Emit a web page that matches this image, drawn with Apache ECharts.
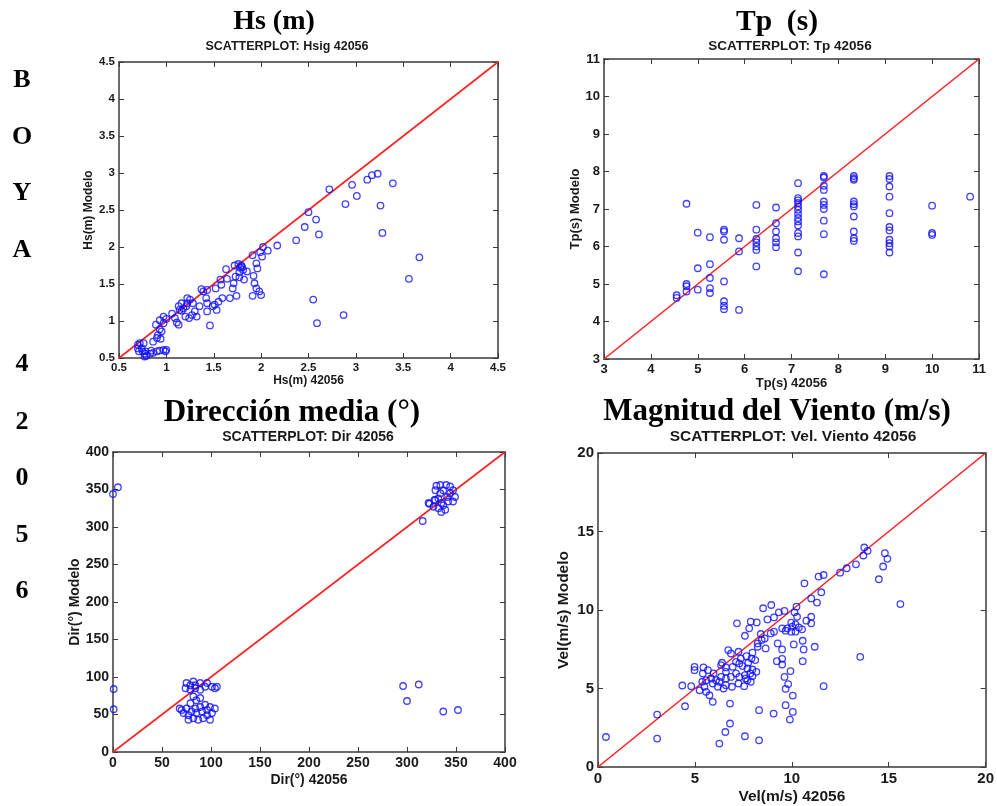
<!DOCTYPE html>
<html><head><meta charset="utf-8">
<script src="https://cdn.jsdelivr.net/npm/echarts@6/dist/echarts.min.js"></script>
<style>html,body{margin:0;padding:0;background:#fff}#c{width:997px;height:806px}</style>
</head><body><div id="c"></div>
<script>
// ---------- DATA ----------
const hsObs = [2.72,2.96,2.89,3.01,3.12,3.17,3.23,3.39,3.26,3.28,3.67,3.56,2.50,2.46,2.58,2.61,2.37,2.17,2.55,2.59,2.87,1.46,2.07,2.02,2.01,1.99,1.91,1.95,1.96,1.92,1.85,1.93,1.95,1.98,2.00,1.91,1.82,1.77,1.74,1.67,1.71,1.64,1.63,1.72,1.76,1.79,1.81,1.77,1.73,1.70,1.57,1.58,1.52,1.59,1.55,1.51,1.53,1.49,1.43,1.43,1.42,1.39,1.43,1.35,1.32,1.30,1.27,1.24,1.28,1.25,1.22,1.21,1.18,1.16,1.13,1.14,1.20,1.09,1.11,1.13,1.06,1.16,1.22,0.97,0.93,0.89,0.93,0.95,0.91,0.94,0.86,0.90,0.97,1.00,0.72,0.74,0.75,0.77,0.79,0.83,0.86,0.90,0.93,0.97,0.99,1.00,0.78,0.71,0.70,0.70,0.77,0.76,0.84,1.37,1.78,1.80];
const hsMod = [2.78,2.84,2.58,2.69,2.91,2.97,2.99,2.86,2.56,2.19,1.86,1.57,2.47,2.27,2.37,2.17,2.09,2.02,1.29,0.97,1.08,0.94,1.95,2.00,1.87,1.93,1.89,1.78,1.71,1.61,1.67,1.51,1.44,1.40,1.35,1.34,1.56,1.59,1.34,1.31,1.51,1.57,1.70,1.75,1.77,1.75,1.69,1.66,1.60,1.44,1.56,1.49,1.44,1.31,1.26,1.22,1.15,1.20,1.13,1.24,1.31,1.40,1.42,1.20,1.06,1.13,1.08,1.04,1.24,1.29,1.31,1.20,1.17,1.24,1.20,1.15,1.06,1.04,0.98,0.95,1.10,1.14,1.24,1.06,1.01,0.95,0.89,0.86,0.81,0.76,0.72,0.77,0.97,1.03,0.70,0.63,0.59,0.56,0.53,0.56,0.57,0.59,0.60,0.61,0.59,0.61,0.59,0.59,0.63,0.68,0.52,0.70,0.60,1.43,1.72,1.73];

const tpObs = [4.55,4.55, 4.76,4.76,4.76,4.76, 5.0,5.0,5.0, 5.26,5.26,5.26,5.26,5.26, 5.56,5.56,5.56,5.56,5.56,5.56,5.56, 5.88,5.88,5.88, 6.25,6.25,6.25,6.25,6.25,6.25,6.25, 6.67,6.67,6.67,6.67,6.67,6.67, 7.14,7.14,7.14,7.14,7.14,7.14,7.14,7.14,7.14,7.14,7.14,7.14,7.14,7.14, 7.69,7.69,7.69,7.69,7.69,7.69,7.69,7.69,7.69,7.69, 8.33,8.33,8.33,8.33,8.33,8.33,8.33,8.33,8.33,8.33, 9.09,9.09,9.09,9.09,9.09,9.09,9.09,9.09,9.09,9.09,9.09, 10.0,10.0,10.0, 10.81];
const tpMod = [4.70,4.63, 7.14,5.00,4.94,4.80, 6.37,5.42,4.85, 6.25,5.53,5.16,4.89,4.76, 6.45,6.40,6.18,5.07,4.54,4.42,4.33, 6.22,5.87,4.31, 7.11,6.45,6.20,6.11,6.00,5.91,5.47, 7.04,6.62,6.40,6.22,6.11,5.98, 7.69,7.23,7.16,7.07,6.98,6.87,6.76,6.56,6.36,6.27,5.84,5.34,7.29,6.67, 7.88,7.62,7.51,7.20,7.11,7.00,6.69,6.33,5.26,7.84, 7.88,7.78,7.20,7.13,7.07,6.80,6.40,6.22,6.15,7.82, 7.88,7.80,7.60,7.33,6.89,6.52,6.43,6.18,6.09,6.00,5.84, 7.09,6.36,6.31, 7.33];

const dirObs = [0,5,0.7,0.7,296,300,312,337,352,316,323,328,327,322,329,330,334,340,344,347,349,347,337,334,332,335,332,335,339,337,342,341,344,329, 75,82,89,96,101,104,74,79,84,89,82,85,89,79,75,70,68,72,77,77,82,87,92,96,101,104,99,94,89,84,80,85,91,96,99,106,79,94,84];
const dirMod = [344,353,84,57,88,68,90,54,56,308,331,336,327,332,336,355,356,356,354,349,340,334,349,345,338,332,325,320,323,329,334,340,345,349, 92,94,92,92,87,85,85,83,85,83,74,69,72,65,58,56,58,52,49,43,45,43,45,49,52,58,60,63,60,58,54,52,54,56,43,87,89,87,89];

const velObs = [0.41,3.05,3.05,4.35,4.49,4.81,4.98,4.98,5.44,5.92,5.75,6.26,6.57,6.81,6.81,7.58,8.31,8.31,9.06,9.90,10.05,10.05,9.68,9.68,9.81,9.62,9.93,9.50,9.50,9.23,9.50,9.27,10.10,10.56,10.61,10.56,11.18,11.64,13.53,15.60,14.49,14.71,14.93,14.80,13.74,13.91,13.69,13.31,12.83,12.49,11.64,11.38,10.65,11.52,11.30,11.00,11.00,11.00,10.75,10.24,10.14,9.62,9.33,8.94,8.52,8.74,9.08,8.19,7.88,7.17,7.80,7.58,8.40,8.24,8.65,8.60,8.91,9.08,9.68,9.76,10.02,10.19,10.36,10.53,9.97,10.19,9.50,9.97,10.27,6.72,7.25,7.66,7.92,6.86,6.40,6.35,6.60,6.95,7.29,7.46,7.71,7.97,8.17,7.85,7.58,7.29,7.12,6.86,6.60,6.35,6.09,5.84,5.58,5.41,5.67,5.38,5.49,5.24,5.58,5.92,6.26,6.48,6.91,7.25,7.54,7.71,7.88,7.97,7.63,6.60,6.18,5.96,6.60,7.12,7.37,7.75,8.11,7.97,8.24,8.45];
const velMod = [1.91,3.34,1.81,5.19,3.87,5.15,6.38,6.17,6.34,4.15,4.57,1.49,2.23,2.77,4.04,1.96,1.70,3.62,3.40,3.02,3.51,4.55,3.94,4.98,5.28,5.74,6.11,6.53,6.89,6.74,7.49,7.87,7.81,6.74,7.49,8.04,7.66,5.15,7.02,10.38,11.96,12.77,13.26,13.62,13.98,13.77,13.47,12.91,12.66,12.38,12.23,12.13,11.70,11.13,10.47,10.74,9.57,9.15,9.32,10.21,9.85,9.94,9.85,10.32,10.11,9.40,9.53,9.21,9.26,9.15,8.83,8.36,8.47,7.66,7.55,8.19,8.51,8.62,8.68,8.83,8.94,9.09,8.89,8.77,8.62,8.62,8.83,9.19,9.57,7.45,7.34,7.06,6.91,7.23,6.64,6.49,6.34,6.38,6.60,6.43,6.28,6.21,6.06,5.96,5.85,5.74,5.96,5.74,5.64,5.74,5.53,5.64,5.53,5.96,6.17,5.43,5.11,4.89,4.79,5.32,5.43,5.00,5.11,5.32,5.15,5.53,5.43,5.79,5.64,5.21,5.11,5.96,6.06,6.70,6.91,6.64,6.81,7.28,7.87,8.09];

// axis ranges [min, max, interval]
const hsAxis = [0.5, 4.5, 0.5];
const tpAxis = [3, 11, 1];
const dirAxis = [0, 400, 50];
const velAxis = [0, 20, 5];

const titles = ['Hs (m)', 'Tp  (s)', 'Dirección media (°)', 'Magnitud del Viento (m/s)'];
const subtitles = ['SCATTERPLOT: Hsig 42056', 'SCATTERPLOT: Tp 42056', 'SCATTERPLOT: Dir 42056', 'SCATTERPLOT: Vel. Viento 42056'];
const xNames = ['Hs(m) 42056', 'Tp(s) 42056', 'Dir(°) 42056', 'Vel(m/s) 42056'];
const yNames = ['Hs(m) Modelo', 'Tp(s) Modelo', 'Dir(°) Modelo', 'Vel(m/s) Modelo'];
const sideLetters = ['B','O','Y','A','4','2','0','5','6'];

// ---------- LAYOUT ----------
const grids = [
  {left:119, top:62, width:379, height:296},
  {left:604, top:59, width:375, height:300},
  {left:113, top:452, width:392, height:300},
  {left:598, top:453, width:390, height:314}
];
const titlePos = [[274,22],[777,22],[292,413],[777,412]];
const titleSize = [28, 29.5, 31, 31];
const subPos = [[287,47],[790,46],[308,437],[793,437]];
const fonts = [
  {tick:11.5, name:12, sub:12.5, xGap:16, yGap:24},
  {tick:13, name:13, sub:13.5, xGap:16, yGap:22},
  {tick:14, name:14, sub:14, xGap:21, yGap:30},
  {tick:15, name:15.5, sub:15.5, xGap:22, yGap:26}
];
const letterY = [80,137,193,250,364,422,478,535,591];

const panels = [
  {obs:hsObs, mod:hsMod, ax:hsAxis},
  {obs:tpObs, mod:tpMod, ax:tpAxis},
  {obs:dirObs, mod:dirMod, ax:dirAxis},
  {obs:velObs, mod:velMod, ax:velAxis}
];

const lineCol = '#3a3a3a';
const xAxes = [], yAxes = [], series = [], graphics = [];

panels.forEach((p, i) => {
  const [mn, mx, iv] = p.ax;
  const f = fonts[i];
  const tickStyle = {color:'#1a1a1a', fontFamily:'Liberation Sans', fontWeight:'bold', fontSize:f.tick, margin:4};
  const nameStyle = {color:'#1a1a1a', fontFamily:'Liberation Sans', fontWeight:'bold', fontSize:f.name};
  const common = {type:'value', min:mn, max:mx, interval:iv, gridIndex:i, splitLine:{show:false},
    axisLine:{show:true, onZero:false, lineStyle:{color:lineCol, width:1.5}},
    axisTick:{show:true, inside:true, length:5, lineStyle:{color:lineCol, width:1}}};
  xAxes.push(Object.assign({}, common, {position:'bottom', name:xNames[i], nameLocation:'middle', nameGap:f.xGap,
    nameTextStyle:nameStyle, axisLabel:tickStyle}));
  xAxes.push(Object.assign({}, common, {position:'top', axisLabel:{show:false}}));
  yAxes.push(Object.assign({}, common, {position:'left', name:yNames[i], nameLocation:'middle', nameGap:f.yGap,
    nameTextStyle:nameStyle, axisLabel:tickStyle}));
  yAxes.push(Object.assign({}, common, {position:'right', axisLabel:{show:false}}));
  series.push({type:'line', xAxisIndex:2*i, yAxisIndex:2*i, data:[[mn,mn],[mx,mx]], symbol:'none', silent:true,
    lineStyle:{color:'#ff2020', width:1.6}, z:3});
  series.push({type:'scatter', xAxisIndex:2*i, yAxisIndex:2*i, data:p.obs.map((v,k)=>[v,p.mod[k]]),
    symbol:'circle', symbolSize:6.5, itemStyle:{color:'rgba(0,0,0,0)', borderColor:'#1010ff', borderWidth:1.3}, z:4});
  graphics.push({type:'text', x:titlePos[i][0], y:titlePos[i][1], style:{text:titles[i], textAlign:'center', textVerticalAlign:'middle',
    font:'bold ' + titleSize[i] + 'px "Liberation Serif"', fill:'#000'}});
  graphics.push({type:'text', x:subPos[i][0], y:subPos[i][1], style:{text:subtitles[i], textAlign:'center', textVerticalAlign:'middle',
    font:'bold ' + f.sub + 'px "Liberation Sans"', fill:'#1a1a1a'}});
});
sideLetters.forEach((t, k) => {
  graphics.push({type:'text', x:22, y:letterY[k], style:{text:t, textAlign:'center', textVerticalAlign:'middle',
    font:'bold 26px "Liberation Serif"', fill:'#000'}});
});

const chart = echarts.init(document.getElementById('c'));
chart.setOption({
  animation:false,
  backgroundColor:'#fff',
  grid:grids.map(g=>Object.assign({containLabel:false}, g)),
  xAxis:xAxes, yAxis:yAxes, series:series, graphic:graphics
});
</script></body></html>
